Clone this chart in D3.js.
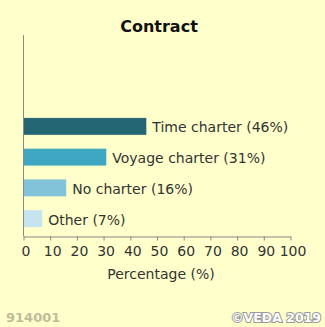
<!DOCTYPE html>
<html>
<head>
<meta charset="utf-8">
<script src="https://cdn.jsdelivr.net/npm/d3@7"></script>
<style>
  body { margin: 0; background: #ffffcc; }
  text { font-family: "DejaVu Sans", Verdana, sans-serif; }
</style>
</head>
<body>
<div id="chart"></div>
<script>
// chart data
var categories = ["Time charter", "Voyage charter", "No charter", "Other"];
var values = [46, 31, 16, 7];
var colors = ["#256674", "#40a7c3", "#81c4d9", "#c6e4ef"];
var xTicks = [0, 10, 20, 30, 40, 50, 60, 70, 80, 90, 100];

var width = 325, height = 327;

var svg = d3.select("#chart").append("svg")
    .attr("width", width)
    .attr("height", height);

svg.append("rect")
    .attr("width", width)
    .attr("height", height)
    .attr("fill", "#ffffcc");

var x = d3.scaleLinear()
    .domain([0, 100])
    .range([23.5, 290.5]);

var y = d3.scaleBand()
    .domain(categories)
    .range([111, 234])
    .paddingInner(0.45)
    .paddingOuter(0.225);

// title
svg.append("text")
    .attr("x", 159)
    .attr("y", 32)
    .attr("text-anchor", "middle")
    .attr("font-size", "16px")
    .attr("font-weight", "bold")
    .attr("fill", "#111")
    .text("Contract");

// bars
svg.selectAll(".bar")
    .data(categories)
    .enter().append("rect")
    .attr("class", "bar")
    .attr("x", x(0))
    .attr("y", function(d) { return y(d); })
    .attr("width", function(d, i) { return x(values[i]) - x(0); })
    .attr("height", y.bandwidth())
    .attr("fill", function(d, i) { return colors[i]; });

// bar labels
svg.selectAll(".lbl")
    .data(categories)
    .enter().append("text")
    .attr("class", "lbl")
    .attr("x", function(d, i) { return x(values[i]) + 6; })
    .attr("y", function(d) { return y(d) + y.bandwidth() / 2 + 1; })
    .attr("dy", "0.35em")
    .attr("font-size", "14px")
    .attr("fill", "#333")
    .text(function(d, i) { return d + " (" + values[i] + "%)"; });

// y axis line
svg.append("line")
    .attr("x1", 23.5).attr("x2", 23.5)
    .attr("y1", 35).attr("y2", 236.5)
    .attr("stroke", "#888")
    .attr("stroke-width", 1);

// x axis
var xAxis = svg.append("g")
    .attr("transform", "translate(0,236.5)")
    .call(d3.axisBottom(x).tickValues(xTicks).tickSize(4).tickSizeOuter(0).tickPadding(6));

xAxis.select(".domain").attr("stroke", "#888");
xAxis.selectAll(".tick line").attr("stroke", "#888");
xAxis.selectAll(".tick text")
    .attr("font-size", "14px")
    .attr("fill", "#333")
    .attr("dx", "2px")
    .attr("font-family", "DejaVu Sans, Verdana, sans-serif");

svg.append("text")
    .attr("x", 161)
    .attr("y", 279)
    .attr("text-anchor", "middle")
    .attr("font-size", "14px")
    .attr("fill", "#333")
    .text("Percentage (%)");

// footer
svg.append("text")
    .attr("x", 6)
    .attr("y", 322)
    .attr("font-size", "13px")
    .attr("font-weight", "bold")
    .attr("fill", "#bdbd9a")
    .text("914001");

svg.append("text")
    .attr("x", 321)
    .attr("y", 322)
    .attr("text-anchor", "end")
    .attr("font-size", "12.5px")
    .attr("font-weight", "bold")
    .attr("fill", "#fff")
    .attr("stroke", "#999")
    .attr("stroke-width", 2)
    .attr("paint-order", "stroke")
    .text("©VEDA 2019");
</script>
</body>
</html>
